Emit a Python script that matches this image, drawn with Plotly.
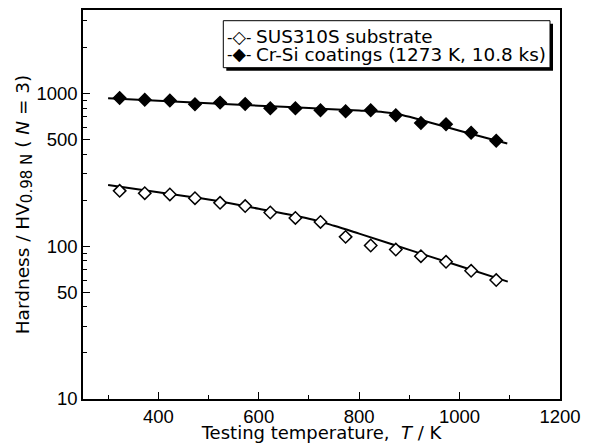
import plotly.graph_objects as go

# ---- data ----
temperature = [323, 373, 423, 473, 523, 573, 623, 673, 723, 773, 823, 873, 923, 973, 1023, 1073]
sus310s_hv = [230, 222, 218, 206, 192, 183, 166, 153, 144, 115, 101, 95, 86, 79, 69, 60]
crsi_hv = [933, 909, 896, 847, 869, 852, 797, 797, 774, 762, 774, 718, 640, 627, 552, 490]

sus_fit_T = [300, 400, 500, 600, 700, 750, 800, 900, 1000, 1096]
sus_fit_hv = [251, 225, 202, 175.6, 151, 136, 120.8, 94.6, 74.1, 58.6]
crsi_fit_T = [300, 400, 500, 600, 700, 800, 850, 875, 900, 950, 1000, 1050, 1095]
crsi_fit_hv = [927, 894, 861, 830, 800, 771, 752, 733, 702, 632, 569, 514, 470]

x_ticks = [400, 600, 800, 1000, 1200]
x_minor = [300, 500, 700, 900, 1100]
y_ticks = [10, 50, 100, 500, 1000]
y_minor = [20, 30, 40, 60, 70, 80, 90, 200, 300, 400, 600, 700, 800, 900, 2000, 3000]

legend_labels = ["SUS310S substrate", "Cr-Si coatings (1273 K, 10.8 ks)"]
legend_symbols = ["◇", "◆"]

TICK_FONT = "Liberation Sans, Arial, sans-serif"
TEXT_FONT = "DejaVu Sans, Liberation Sans, sans-serif"

fig = go.Figure()

fig.add_trace(go.Scatter(x=sus_fit_T, y=sus_fit_hv, mode="lines",
                         line=dict(color="black", width=2, shape="spline"),
                         showlegend=False, hoverinfo="skip"))
fig.add_trace(go.Scatter(x=crsi_fit_T, y=crsi_fit_hv, mode="lines",
                         line=dict(color="black", width=2, shape="spline"),
                         showlegend=False, hoverinfo="skip"))
fig.add_trace(go.Scatter(x=temperature, y=sus310s_hv, mode="markers", name=legend_labels[0],
                         marker=dict(symbol="diamond", size=9.5, color="white",
                                     line=dict(color="black", width=1.5)),
                         showlegend=False))
fig.add_trace(go.Scatter(x=temperature, y=crsi_hv, mode="markers", name=legend_labels[1],
                         marker=dict(symbol="diamond", size=9.5, color="black",
                                     line=dict(color="black", width=1.5)),
                         showlegend=False))

# plot area in pixels: x 83..560, y 10..399
def px(xp):
    return (xp - 83) / 477.0

def py(yp):
    return (399 - yp) / 389.0

shapes = [
    dict(type="rect", xref="paper", yref="paper", x0=px(226.3), x1=px(553), y0=py(23.7), y1=py(70.7),
         fillcolor="black", line=dict(width=0), layer="above"),
    dict(type="rect", xref="paper", yref="paper", x0=px(223.3), x1=px(550), y0=py(20.7), y1=py(67.7),
         fillcolor="white", line=dict(color="black", width=1), layer="above"),
]

annotations = []
for label, sym, yrow in zip(legend_labels, legend_symbols, [36.7, 54.3]):
    annotations.append(dict(
        xref="paper", yref="paper", x=px(225), y=py(yrow), xanchor="left", yanchor="middle",
        showarrow=False,
        text='<span style="font-size:15px">-</span>' + sym + '<span style="font-size:15px">-</span>',
        font=dict(family=TEXT_FONT, size=17.5, color="black")))
    annotations.append(dict(
        xref="paper", yref="paper", x=px(254), y=py(yrow), xanchor="left", yanchor="middle",
        showarrow=False, text=label,
        font=dict(family=TEXT_FONT, size=18.4, color="black")))

fig.update_layout(
    width=591, height=443,
    margin=dict(l=83, r=31, t=10, b=44, autoexpand=False),
    paper_bgcolor="white", plot_bgcolor="white",
    font=dict(family=TICK_FONT, size=18.5, color="black"),
    showlegend=False,
    shapes=shapes, annotations=annotations,
)

fig.update_xaxes(
    range=[250, 1200], showgrid=False, zeroline=False,
    showline=True, linecolor="black", linewidth=1.5, mirror=True,
    ticks="inside", ticklen=7, tickwidth=1.2, tickcolor="black",
    tickvals=x_ticks, ticktext=[str(v) for v in x_ticks],
    minor=dict(tickvals=x_minor, ticks="inside", ticklen=4, tickwidth=1.2, tickcolor="black"),
    title=dict(text="Testing temperature,  <i>T</i> / K", standoff=2,
               font=dict(family=TEXT_FONT, size=18)),
    tickfont=dict(size=18.5),
)
fig.update_yaxes(
    type="log", range=[1, 3.545], showgrid=False, zeroline=False,
    showline=True, linecolor="black", linewidth=1.5, mirror=True,
    ticks="inside", ticklen=7, tickwidth=1.2, tickcolor="black",
    tickvals=y_ticks, ticktext=[str(v) for v in y_ticks],
    minor=dict(tickvals=y_minor, ticks="inside", ticklen=4, tickwidth=1.2, tickcolor="black"),
    title=dict(text='Hardness / HV<sub><span style="font-size:15px">0.98 N</span></sub> (&nbsp;<i>N</i>&nbsp;=&nbsp;3)',
               standoff=2, font=dict(family=TEXT_FONT, size=18.5)),
    tickfont=dict(size=18.5),
)

fig.write_html("out.html")
